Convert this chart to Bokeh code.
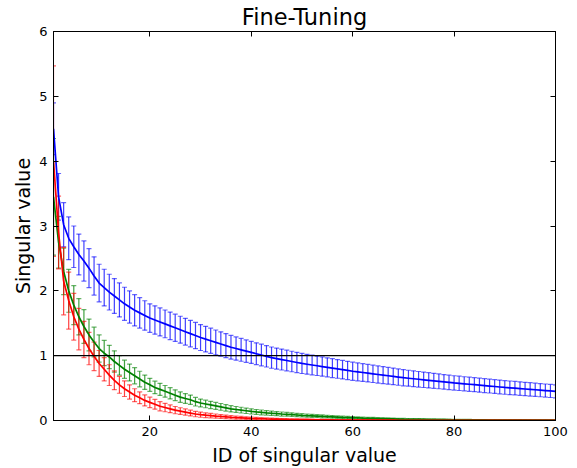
from bokeh.plotting import figure
from bokeh.models import (ColumnDataSource, Whisker, TeeHead, Span, Range1d,
                          FixedTicker, LinearAxis, CustomJSTickFormatter)
from bokeh.embed import file_html
from bokeh.resources import INLINE

ids = list(range(1, 101))
x_ticks = [20, 40, 60, 80, 100]
y_ticks = [0, 1, 2, 3, 4, 5, 6]
threshold = 1

blue_mean = [4.50, 3.45, 3.02, 2.81, 2.68, 2.56, 2.46, 2.35, 2.23, 2.12,
             2.05, 1.98, 1.92, 1.86, 1.80, 1.75, 1.70, 1.66, 1.62, 1.58,
             1.55, 1.52, 1.49, 1.46, 1.43, 1.40, 1.37, 1.34, 1.31, 1.28,
             1.255, 1.23, 1.205, 1.18, 1.155, 1.13, 1.11, 1.09, 1.07, 1.05,
             1.03, 1.01, 0.99, 0.97, 0.955, 0.94, 0.925, 0.91, 0.895, 0.88,
             0.868, 0.856, 0.844, 0.832, 0.82, 0.808, 0.796, 0.784, 0.772, 0.76,
             0.75, 0.74, 0.73, 0.72, 0.71, 0.70, 0.69, 0.68, 0.67, 0.66,
             0.652, 0.644, 0.636, 0.628, 0.62, 0.612, 0.604, 0.596, 0.588, 0.58,
             0.573, 0.566, 0.559, 0.552, 0.545, 0.538, 0.531, 0.524, 0.517, 0.51,
             0.504, 0.498, 0.492, 0.486, 0.48, 0.474, 0.468, 0.462, 0.456, 0.45]
blue_err = [0.40, 0.36, 0.34, 0.33, 0.32, 0.315, 0.31, 0.30, 0.295, 0.29,
            0.283, 0.276, 0.269, 0.262, 0.255, 0.248, 0.241, 0.234, 0.227, 0.22,
            0.218, 0.216, 0.214, 0.212, 0.21, 0.208, 0.206, 0.204, 0.202, 0.20,
            0.197, 0.194, 0.191, 0.188, 0.185, 0.182, 0.179, 0.176, 0.173, 0.17,
            0.168, 0.167, 0.165, 0.164, 0.162, 0.161, 0.159, 0.158, 0.156, 0.155,
            0.153, 0.152, 0.150, 0.149, 0.147, 0.146, 0.144, 0.143, 0.141, 0.14,
            0.138, 0.137, 0.135, 0.134, 0.132, 0.131, 0.129, 0.128, 0.126, 0.125,
            0.123, 0.122, 0.120, 0.119, 0.117, 0.116, 0.114, 0.113, 0.111, 0.11,
            0.11, 0.109, 0.109, 0.108, 0.108, 0.107, 0.107, 0.106, 0.106, 0.105,
            0.105, 0.104, 0.104, 0.103, 0.103, 0.102, 0.102, 0.101, 0.101, 0.10]

green_mean = [3.45, 2.75, 2.30, 2.00, 1.78, 1.60, 1.45, 1.32, 1.21, 1.11,
              1.04, 0.98, 0.91, 0.85, 0.79, 0.74, 0.69, 0.64, 0.59, 0.55,
              0.51, 0.48, 0.45, 0.42, 0.39, 0.36, 0.34, 0.32, 0.29, 0.27,
              0.255, 0.24, 0.225, 0.21, 0.195, 0.18, 0.17, 0.16, 0.15, 0.14,
              0.132, 0.125, 0.118, 0.112, 0.106, 0.10, 0.095, 0.09, 0.085, 0.08,
              0.076, 0.072, 0.068, 0.064, 0.06, 0.056, 0.052, 0.048, 0.045, 0.042,
              0.039, 0.036, 0.034, 0.032, 0.03, 0.028, 0.026, 0.024, 0.022, 0.02,
              0.019, 0.018, 0.017, 0.016, 0.015, 0.014, 0.013, 0.012, 0.011, 0.01,
              0.0097, 0.0094, 0.0091, 0.0088, 0.0085, 0.0082, 0.0079, 0.0076, 0.0073, 0.007,
              0.0068, 0.0066, 0.0064, 0.0062, 0.006, 0.0058, 0.0056, 0.0054, 0.0052, 0.005]
green_err = [0.90, 0.40, 0.36, 0.33, 0.30, 0.28, 0.26, 0.245, 0.23, 0.21,
             0.195, 0.18, 0.165, 0.15, 0.14, 0.13, 0.125, 0.12, 0.11, 0.10,
             0.097, 0.094, 0.09, 0.087, 0.083, 0.08, 0.076, 0.072, 0.066, 0.06,
             0.058, 0.056, 0.054, 0.052, 0.05, 0.048, 0.046, 0.044, 0.042, 0.04,
             0.038, 0.037, 0.035, 0.034, 0.032, 0.031, 0.029, 0.028, 0.026, 0.025,
             0.024, 0.023, 0.022, 0.022, 0.021, 0.02, 0.019, 0.018, 0.018, 0.017,
             0.016, 0.016, 0.015, 0.015, 0.014, 0.014, 0.013, 0.013, 0.012, 0.012,
             0.011, 0.011, 0.011, 0.01, 0.01, 0.01, 0.009, 0.009, 0.009, 0.008,
             0.008, 0.008, 0.008, 0.007, 0.007, 0.007, 0.007, 0.007, 0.006, 0.006,
             0.006, 0.006, 0.006, 0.006, 0.005, 0.005, 0.005, 0.005, 0.005, 0.005]

red_mean = [4.00, 2.90, 2.15, 1.85, 1.60, 1.41, 1.25, 1.11, 0.99, 0.88,
            0.79, 0.70, 0.62, 0.55, 0.49, 0.44, 0.39, 0.35, 0.31, 0.28,
            0.25, 0.22, 0.20, 0.18, 0.16, 0.145, 0.13, 0.115, 0.10, 0.09,
            0.082, 0.075, 0.068, 0.062, 0.056, 0.05, 0.045, 0.041, 0.037, 0.033,
            0.03, 0.027, 0.024, 0.022, 0.02, 0.018, 0.016, 0.015, 0.014, 0.013,
            0.012, 0.011, 0.010, 0.0095, 0.009, 0.0085, 0.008, 0.0075, 0.007, 0.0065,
            0.0062, 0.0059, 0.0056, 0.0053, 0.005, 0.0048, 0.0046, 0.0044, 0.0042, 0.004,
            0.0039, 0.0038, 0.0037, 0.0036, 0.0035, 0.0034, 0.0033, 0.0032, 0.0031, 0.003,
            0.003, 0.0029, 0.0029, 0.0028, 0.0028, 0.0027, 0.0027, 0.0026, 0.0026, 0.0025,
            0.0025, 0.0024, 0.0024, 0.0023, 0.0023, 0.0022, 0.0022, 0.0021, 0.0021, 0.002]
red_err = [1.47, 0.56, 0.52, 0.44, 0.36, 0.32, 0.28, 0.25, 0.22, 0.20,
           0.18, 0.16, 0.145, 0.13, 0.12, 0.11, 0.10, 0.09, 0.085, 0.08,
           0.075, 0.07, 0.065, 0.06, 0.056, 0.052, 0.048, 0.045, 0.042, 0.04,
           0.037, 0.034, 0.032, 0.03, 0.028, 0.026, 0.024, 0.022, 0.021, 0.02,
           0.018, 0.017, 0.016, 0.015, 0.014, 0.013, 0.012, 0.011, 0.01, 0.01,
           0.009, 0.009, 0.008, 0.008, 0.007, 0.007, 0.006, 0.006, 0.006, 0.005,
           0.005, 0.005, 0.005, 0.004, 0.004, 0.004, 0.004, 0.004, 0.003, 0.003,
           0.003, 0.003, 0.003, 0.003, 0.003, 0.003, 0.002, 0.002, 0.002, 0.002,
           0.002, 0.002, 0.002, 0.002, 0.002, 0.002, 0.002, 0.002, 0.002, 0.002,
           0.002, 0.002, 0.002, 0.002, 0.002, 0.002, 0.002, 0.002, 0.002, 0.002]

FONT = "DejaVu Sans"

p = figure(width=577, height=468, output_backend="svg", toolbar_location=None,
           x_range=Range1d(1, 100), y_range=Range1d(0, 6),
           min_border_left=53, min_border_right=22, min_border_top=31,
           min_border_bottom=47)
p.background_fill_color = "white"
p.border_fill_color = "white"
p.outline_line_color = "black"
p.outline_line_width = 1
p.grid.visible = False

p.title.text = "Fine-Tuning"
p.title.align = "center"
p.title.text_font = FONT
p.title.text_font_size = "22.5px"
p.title.text_font_style = "normal"
p.title.text_color = "black"
p.title.offset = 0
p.title.standoff = 3

def style_axis(ax, ticks):
    ax.ticker = FixedTicker(ticks=ticks)
    ax.major_tick_in = 5
    ax.major_tick_out = 0
    ax.minor_tick_line_color = None
    ax.axis_line_color = "black"
    ax.major_tick_line_color = "black"
    ax.major_label_text_font = FONT
    ax.major_label_text_font_size = "13px"
    ax.major_label_text_color = "black"
    ax.axis_label_text_font = FONT
    ax.axis_label_text_font_size = "19px"
    ax.axis_label_text_font_style = "normal"
    ax.axis_label_text_color = "black"

style_axis(p.xaxis[0], x_ticks)
style_axis(p.yaxis[0], y_ticks)
p.xaxis[0].axis_label = "ID of singular value"
p.yaxis[0].axis_label = "Singular value"
p.xaxis[0].major_label_standoff = 6
p.yaxis[0].major_label_standoff = 6
p.xaxis[0].axis_label_standoff = 5
p.yaxis[0].axis_label_standoff = 2

blank = CustomJSTickFormatter(code="return ''")
top_ax = LinearAxis(formatter=blank)
right_ax = LinearAxis(formatter=blank)
style_axis(top_ax, x_ticks)
style_axis(right_ax, y_ticks)
for ax in (top_ax, right_ax):
    ax.major_label_standoff = 0
    ax.major_label_text_font_size = "1px"
p.add_layout(top_ax, "above")
p.add_layout(right_ax, "right")

p.add_layout(Span(location=threshold, dimension="width", line_color="black",
                  line_width=1.3))

series = [(blue_mean, blue_err, "#0000ff"),
          (green_mean, green_err, "#008000"),
          (red_mean, red_err, "#ff0000")]

for mean, err, color in series:
    src = ColumnDataSource(dict(
        x=ids, y=mean,
        upper=[m + e for m, e in zip(mean, err)],
        lower=[m - e for m, e in zip(mean, err)]))
    w = Whisker(source=src, base="x", upper="upper", lower="lower",
                dimension="height", line_color=color, line_width=1.2,
                line_alpha=0.75,
                upper_head=TeeHead(size=5, line_color=color, line_width=1.2, line_alpha=0.6),
                lower_head=TeeHead(size=5, line_color=color, line_width=1.2, line_alpha=0.6))
    p.add_layout(w)
    p.line("x", "y", source=src, line_color=color, line_width=1.7)

open("out.html", "w").write(file_html(p, INLINE))
